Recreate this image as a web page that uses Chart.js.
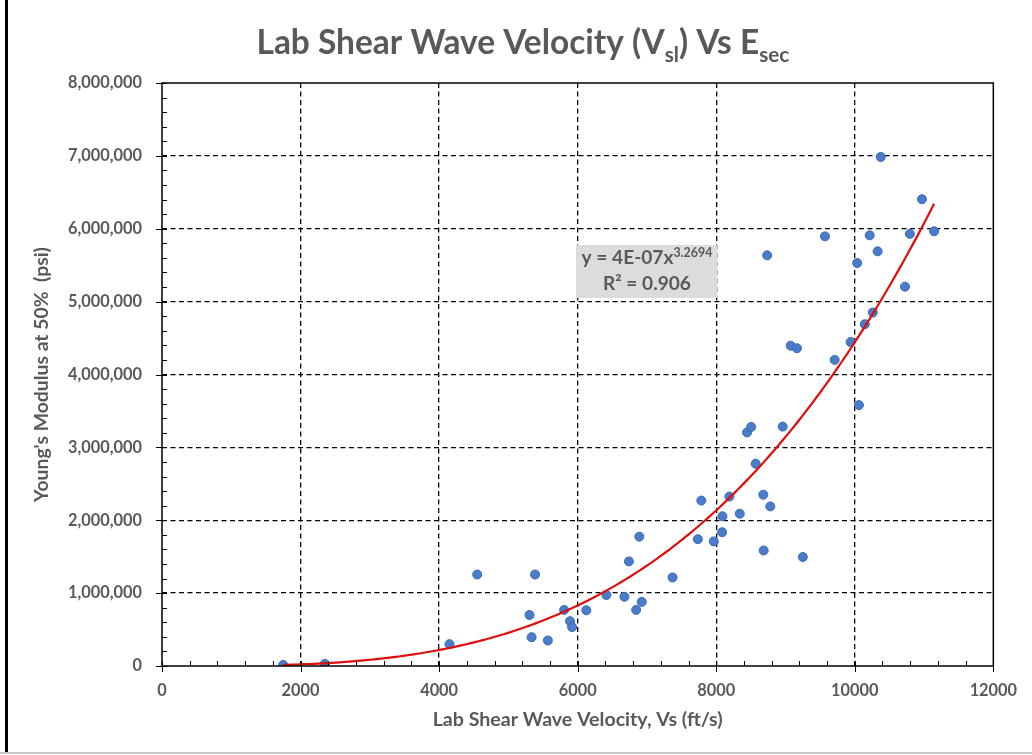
<!DOCTYPE html>
<html><head><meta charset="utf-8">
<script src="https://cdn.jsdelivr.net/npm/chart.js@4.4.1/dist/chart.umd.min.js"></script>
<style>html,body{margin:0;padding:0;background:#fff;}#wrap{position:relative;width:1032px;height:755px;}canvas{display:block;}</style>
</head><body><div id="wrap"><canvas id="c" width="1032" height="755"></canvas></div>
<script>
// ---- data ----
const velocity = [1750, 2350, 4150, 4550, 5385, 5305, 5335, 5570, 5805, 5890, 5920, 6125, 6415, 6675, 6740, 6890, 6845, 6925, 7370, 7735, 7785, 7965, 8090, 8085, 8340, 8780, 8685, 8190, 8680, 9250, 8570, 8445, 8505, 8960, 9075, 9165, 9710, 9940, 10060, 10145, 10260, 10375, 10970, 8735, 9570, 10215, 10795, 11145, 10330, 10035, 10725];
const modulus = [15000, 28000, 300000, 1255000, 1255000, 700000, 395000, 350000, 770000, 615000, 535000, 765000, 975000, 950000, 1435000, 1775000, 770000, 880000, 1215000, 1740000, 2270000, 1710000, 2055000, 1835000, 2090000, 2190000, 1585000, 2325000, 2350000, 1495000, 2775000, 3205000, 3280000, 3285000, 4395000, 4360000, 4200000, 4445000, 3580000, 4690000, 4850000, 6985000, 6405000, 5635000, 5895000, 5910000, 5930000, 5965000, 5690000, 5530000, 5205000];
const xTickValues = [0, 2000, 4000, 6000, 8000, 10000, 12000];
const xTickLabels = ['0', '2000', '4000', '6000', '8000', '10000', '12000'];
const yTickValues = [0, 1000000, 2000000, 3000000, 4000000, 5000000, 6000000, 7000000, 8000000];
const yTickLabels = ['0', '1,000,000', '2,000,000', '3,000,000', '4,000,000', '5,000,000', '6,000,000', '7,000,000', '8,000,000'];
const xMinorStep = 400;
const yMinorStep = 200000;
const titleParts = [['Lab Shear Wave Velocity (V', false], ['sl', true], [') Vs E', false], ['sec', true]];
const xTitle = 'Lab Shear Wave Velocity, Vs (ft/s)';
const yTitle = "Young's Modulus at 50%  (psi)";
const eqMain = 'y = 4E-07x';
const eqExp = '3.2694';
const eqR2 = 'R\u00B2 = 0.906';

// ---- power trendline fitted (least squares in log space) from the data ----
function powerFit(xs, ys) {
  let n = xs.length, sx = 0, sy = 0, sxx = 0, sxy = 0;
  for (let i = 0; i < n; i++) {
    const lx = Math.log(xs[i]), ly = Math.log(ys[i]);
    sx += lx; sy += ly; sxx += lx * lx; sxy += lx * ly;
  }
  const b = (n * sxy - sx * sy) / (n * sxx - sx * sx);
  const a = Math.exp((sy - b * sx) / n);
  return {a, b};
}
const fit = powerFit(velocity, modulus);
const xMin = Math.min(...velocity), xMax = Math.max(...velocity);
const trend = [];
for (let i = 0; i <= 150; i++) {
  const x = xMin + (xMax - xMin) * i / 150;
  trend.push({x, y: fit.a * Math.pow(x, fit.b)});
}

const FONT = 'Lato';
const GRAY = '#595959';
const mctx = document.createElement('canvas').getContext('2d');
function fitSize(text, weight, target) {
  mctx.font = weight + ' 100px ' + FONT;
  return 100 * target / mctx.measureText(text).width;
}
const tickSize = fitSize('8,000,000', 'bold', 74);
const xTitleSize = fitSize(xTitle, 'bold', 290);
const yTitleSize = fitSize(yTitle, 'bold', 255);

const CA = {left: 162, right: 997, top: 83, bottom: 666};

const deco = {
  id: 'deco',
  afterDraw(chart) {
    const ctx = chart.ctx, a = chart.chartArea;
    const xs = chart.scales.x, ys = chart.scales.y;
    ctx.save();
    // outer frame
    ctx.fillStyle = '#000'; ctx.fillRect(5, 0, 3, 753);
    ctx.fillStyle = '#c8c8c8'; ctx.fillRect(0, 752, 1032, 2);
    // plot area border
    ctx.strokeStyle = '#000'; ctx.lineWidth = 1.5;
    ctx.strokeRect(a.left, a.top, a.right - a.left, a.bottom - a.top);
    // ticks
    ctx.lineWidth = 1;
    ctx.beginPath();
    for (let v = 0; v <= 12000; v += xMinorStep) {
      const p = Math.round(xs.getPixelForValue(v)) + 0.5;
      if (v % 2000 === 0) { ctx.moveTo(p, a.bottom - 5); ctx.lineTo(p, a.bottom + 6); }
      else { ctx.moveTo(p, a.bottom - 5); ctx.lineTo(p, a.bottom); }
    }
    for (let v = 0; v <= 8000000; v += yMinorStep) {
      const p = Math.round(ys.getPixelForValue(v)) + 0.5;
      if (v % 1000000 === 0) { ctx.moveTo(a.left - 6, p); ctx.lineTo(a.left + 5, p); }
      else { ctx.moveTo(a.left, p); ctx.lineTo(a.left + 5, p); }
    }
    ctx.stroke();
    // title with subscripts
    const S = 33, sub = 0.62 * S;
    let total = 0;
    titleParts.forEach(([t, s]) => { ctx.font = 'bold ' + (s ? sub : S) + 'px ' + FONT; total += ctx.measureText(t).width; });
    const scale = 533 / total;
    const S2 = S * scale, sub2 = sub * scale;
    let x = 523 - 533 / 2;
    ctx.fillStyle = GRAY; ctx.textBaseline = 'alphabetic'; ctx.textAlign = 'left';
    titleParts.forEach(([t, s]) => {
      ctx.font = 'bold ' + (s ? sub2 : S2) + 'px ' + FONT;
      ctx.fillText(t, x, s ? 53.5 + 8.5 : 53.5);
      x += ctx.measureText(t).width;
    });
    // equation label
    ctx.fillStyle = '#dcdcdc';
    ctx.fillRect(576, 245, 141, 53);
    ctx.fillStyle = GRAY;
    const es = fitSize(eqR2, 'bold', 88);
    ctx.font = 'bold ' + es + 'px ' + FONT;
    const w1 = ctx.measureText(eqMain).width;
    ctx.font = 'bold ' + (es * 0.65) + 'px ' + FONT;
    const w2 = ctx.measureText(eqExp).width;
    let ex = 647 - (w1 + w2) / 2;
    ctx.font = 'bold ' + es + 'px ' + FONT;
    ctx.fillText(eqMain, ex, 264);
    ctx.font = 'bold ' + (es * 0.65) + 'px ' + FONT;
    ctx.fillText(eqExp, ex + w1, 257);
    ctx.font = 'bold ' + es + 'px ' + FONT;
    ctx.textAlign = 'center';
    ctx.fillText(eqR2, 647, 290);
    ctx.restore();
  }
};

const gridColor = (max) => (c) => (c.tick && (c.tick.value === 0 || c.tick.value === max)) ? 'rgba(0,0,0,0)' : '#000';

new Chart(document.getElementById('c'), {
  type: 'scatter',
  data: {
    datasets: [
      {label: 'Trend', type: 'line', data: trend, borderColor: '#e00d0d', borderWidth: 2.2, pointRadius: 0, fill: false, tension: 0, order: 0},
      {label: 'Data', data: velocity.map((v, i) => ({x: v, y: modulus[i]})), backgroundColor: '#4a7cca', borderColor: '#3b69b3', borderWidth: 1, pointRadius: 4.5, order: 1}
    ]
  },
  options: {
    responsive: false, animation: false, devicePixelRatio: 1,
    layout: {padding: {left: 0, top: CA.top, right: 1032 - CA.right, bottom: 0}},
    plugins: {legend: {display: false}, title: {display: false}, tooltip: {enabled: false}},
    scales: {
      x: {
        type: 'linear', min: 0, max: 12000,
        afterBuildTicks: (s) => { s.ticks = xTickValues.map(v => ({value: v})); },
        afterFit: (s) => { s.height = 755 - CA.bottom; },
        ticks: {callback: (v, i) => xTickLabels[i], color: GRAY, padding: 15, maxRotation: 0, autoSkip: false, font: {family: FONT, size: tickSize, weight: 'bold'}},
        grid: {color: gridColor(12000), lineWidth: 1.3, drawTicks: false},
        border: {display: false, dash: [5, 3.5]},
        title: {display: true, text: xTitle, color: GRAY, font: {family: FONT, size: xTitleSize, weight: 'bold'}, padding: {top: 0, bottom: 35 - xTitleSize * 0.6}}
      },
      y: {
        type: 'linear', min: 0, max: 8000000,
        afterBuildTicks: (s) => { s.ticks = yTickValues.map(v => ({value: v})); },
        afterFit: (s) => { s.width = CA.left; },
        ticks: {callback: (v, i) => yTickLabels[i], color: GRAY, padding: 20, autoSkip: false, font: {family: FONT, size: tickSize, weight: 'bold'}},
        grid: {color: gridColor(8000000), lineWidth: 1.3, drawTicks: false},
        border: {display: false, dash: [5, 3.5]},
        title: {display: true, text: yTitle, color: GRAY, font: {family: FONT, size: yTitleSize, weight: 'bold'}, padding: {top: 42 - yTitleSize * 0.6, bottom: 0}}
      }
    }
  },
  plugins: [deco]
});
</script></body></html>
